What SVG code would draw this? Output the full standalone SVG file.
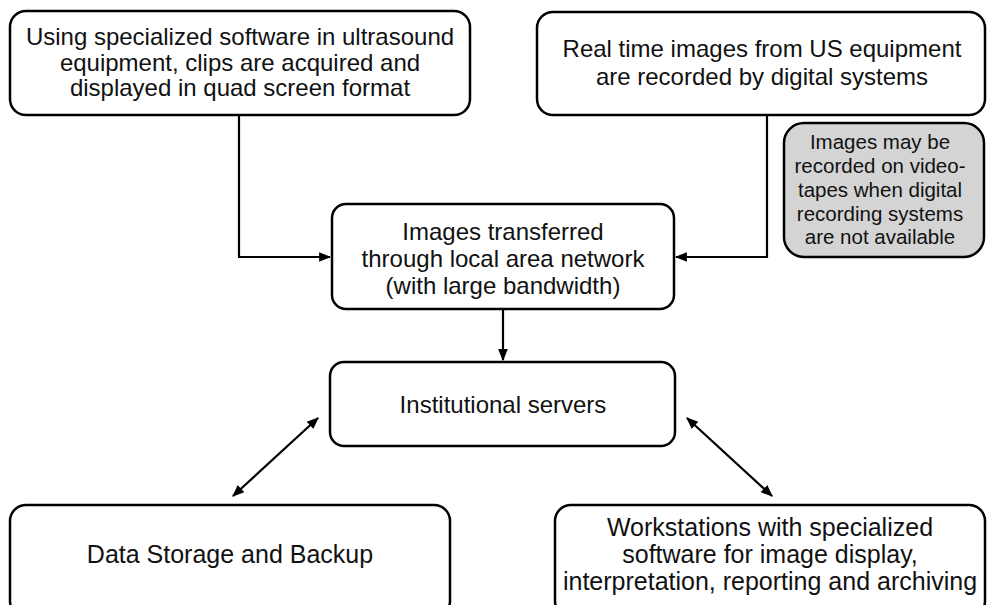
<svg xmlns="http://www.w3.org/2000/svg" width="987" height="605" viewBox="0 0 987 605">
<style>
.box{fill:#fff;stroke:#000;stroke-width:2.5}
.note{fill:#d4d4d4;stroke:#000;stroke-width:2.5}
.t{font-family:"Liberation Sans",Arial,sans-serif;font-size:24px;fill:#111;text-anchor:middle}
.tn{font-family:"Liberation Sans",Arial,sans-serif;font-size:20.5px;fill:#111;text-anchor:middle}
.tb{font-family:"Liberation Sans",Arial,sans-serif;font-size:25px;fill:#111;text-anchor:middle}
.c{fill:none;stroke:#000;stroke-width:2.2}
</style>
<defs>
<marker id="ah" viewBox="0 0 10 10" refX="9" refY="5" markerWidth="5.5" markerHeight="5.5" orient="auto-start-reverse" markerUnits="strokeWidth">
<path d="M0,1 L10,5 L0,9 z" fill="#000"/>
</marker>
</defs>
<rect width="987" height="605" fill="#fff"/>
<g id="n1">
<rect class="box" x="10" y="11" width="460" height="104" rx="16"/>
<text class="t" x="240" y="45">Using specialized software in ultrasound</text>
<text class="t" x="240" y="71">equipment, clips are acquired and</text>
<text class="t" x="240" y="96">displayed in quad screen format</text>
</g>
<g id="n2">
<rect class="box" x="537" y="12" width="448" height="103" rx="16"/>
<text class="t" x="762" y="57">Real time images from US equipment</text>
<text class="t" x="762" y="85">are recorded by digital systems</text>
</g>
<g id="n3">
<rect class="note" x="784" y="123" width="200" height="134" rx="20"/>
<text class="tn" x="880" y="149">Images may be</text>
<text class="tn" x="880" y="173">recorded on video-</text>
<text class="tn" x="880" y="197">tapes when digital</text>
<text class="tn" x="880" y="221">recording systems</text>
<text class="tn" x="880" y="244">are not available</text>
</g>
<g id="n4">
<rect class="box" x="332" y="204" width="342" height="105" rx="14"/>
<text class="t" x="503" y="240">Images transferred</text>
<text class="t" x="503" y="267">through local area network</text>
<text class="t" x="503" y="294">(with large bandwidth)</text>
</g>
<g id="n5">
<rect class="box" x="330" y="362" width="345" height="84" rx="14"/>
<text class="t" x="503" y="413">Institutional servers</text>
</g>
<g id="n6">
<rect class="box" x="10" y="505" width="440" height="112" rx="16"/>
<text class="tb" x="230" y="563">Data Storage and Backup</text>
</g>
<g id="n7">
<rect class="box" x="555" y="505" width="430" height="112" rx="16"/>
<text class="tb" x="770" y="536">Workstations with specialized</text>
<text class="tb" x="770" y="563">software for image display,</text>
<text class="tb" x="770" y="590">interpretation, reporting and archiving</text>
</g>
<g id="connectors">
<path class="c" d="M239,115 V257 H330" marker-end="url(#ah)"/>
<path class="c" d="M767,115 V257 H676" marker-end="url(#ah)"/>
<path class="c" d="M503,309 V360" marker-end="url(#ah)"/>
<path class="c" d="M318,418 L233,496" marker-start="url(#ah)" marker-end="url(#ah)"/>
<path class="c" d="M687,418 L772,496" marker-start="url(#ah)" marker-end="url(#ah)"/>
</g>
</svg>
